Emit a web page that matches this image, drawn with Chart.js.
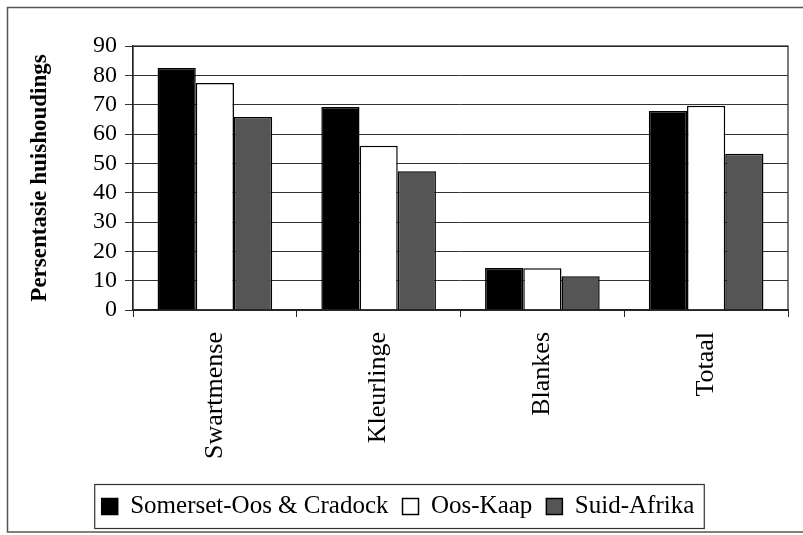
<!DOCTYPE html>
<html>
<head>
<meta charset="utf-8">
<script src="https://cdn.jsdelivr.net/npm/chart.js@4.4.1/dist/chart.umd.min.js"></script>
<style>
html,body{margin:0;padding:0;background:#fff;}
#wrap{width:803px;height:535px;position:relative;}
</style>
</head>
<body>
<div id="wrap"><canvas id="c" width="803" height="535"></canvas></div>
<script>
const categories = ["Swartmense", "Kleurlinge", "Blankes", "Totaal"];
const somersetOosCradock = [82.5, 69.2, 14.3, 67.8];
const oosKaap = [77.4, 56.0, 14.2, 69.6];
const suidAfrika = [65.8, 47.3, 11.5, 53.3];
const seriesNames = ["Somerset-Oos & Cradock", "Oos-Kaap", "Suid-Afrika"];
const yTicks = [0, 10, 20, 30, 40, 50, 60, 70, 80, 90];

const SERIF = "'Liberation Serif', 'Times New Roman', serif";

const frame = {
  id: 'frame',
  beforeDraw(chart) {
    const ctx = chart.ctx;
    ctx.save();
    ctx.fillStyle = '#fff';
    ctx.fillRect(0, 0, chart.width, chart.height);
    ctx.strokeStyle = '#555';
    ctx.lineWidth = 1.5;
    ctx.beginPath();
    ctx.moveTo(803, 7.5); ctx.lineTo(7.5, 7.5); ctx.lineTo(7.5, 532); ctx.lineTo(803, 532);
    ctx.stroke();
    ctx.restore();
  },
  afterDraw(chart) {
    const ctx = chart.ctx;
    const a = chart.chartArea;
    ctx.save();
    ctx.strokeStyle = '#222';
    ctx.lineWidth = 1.2;
    ctx.strokeRect(a.left, a.top, a.right - a.left, a.bottom - a.top);
    const hb = chart.legend.legendHitBoxes;
    if (hb && hb.length) {
      let minX = Infinity, maxX = -Infinity, minY = Infinity, maxY = -Infinity;
      hb.forEach(h => { minX = Math.min(minX, h.left); maxX = Math.max(maxX, h.left + h.width); minY = Math.min(minY, h.top); maxY = Math.max(maxY, h.top + h.height); });
      const cy = (minY + maxY) / 2;
      ctx.strokeStyle = '#333';
      ctx.lineWidth = 1.2;
      ctx.strokeRect(minX - 7, cy - 22, (maxX - minX) + 17, 44);
    }
    ctx.restore();
  }
};

new Chart(document.getElementById('c'), {
  type: 'bar',
  data: {
    labels: categories,
    datasets: [
      { label: seriesNames[0], data: somersetOosCradock, backgroundColor: '#000000', borderColor: '#000', borderWidth: 1.5 },
      { label: seriesNames[1], data: oosKaap, backgroundColor: '#ffffff', borderColor: '#000', borderWidth: 1.5 },
      { label: seriesNames[2], data: suidAfrika, backgroundColor: '#555555', borderColor: '#000', borderWidth: 1.5 }
    ]
  },
  options: {
    responsive: false,
    animation: false,
    devicePixelRatio: 1,
    layout: { padding: { left: 8, top: 46, right: 15, bottom: 6 } },
    datasets: { bar: { barPercentage: 1.0, categoryPercentage: 0.7 } },
    plugins: {
      tooltip: { enabled: false },
      legend: {
        position: 'bottom',
        labels: {
          color: '#000',
          font: { family: SERIF, size: 25 },
          boxWidth: 16,
          boxHeight: 16,
          padding: 14
        }
      }
    },
    scales: {
      x: {
        grid: { display: true, offset: true, drawOnChartArea: false, drawTicks: true, tickLength: 7, color: '#222', lineWidth: 1 },
        border: { display: true, color: '#222', width: 1.2 },
        ticks: { color: '#000', font: { family: SERIF, size: 26 }, minRotation: 90, maxRotation: 90, padding: 15 },
        afterFit(scale) { scale.height = 170; }
      },
      y: {
        min: 0, max: 90,
        afterBuildTicks(scale) { scale.ticks = yTicks.map(v => ({ value: v })); },
        grid: { color: '#333', lineWidth: 1, tickLength: 8 },
        border: { display: true, color: '#222', width: 1.2 },
        ticks: { color: '#000', font: { family: SERIF, size: 24 }, padding: 8, autoSkip: false },
        title: { display: true, text: 'Persentasie huishoudings', color: '#000', font: { family: SERIF, size: 23, weight: 'bold' }, padding: { top: 18, bottom: 0 } },
        afterFit(scale) { scale.width = 125; }
      }
    }
  },
  plugins: [frame]
});
</script>
</body>
</html>
